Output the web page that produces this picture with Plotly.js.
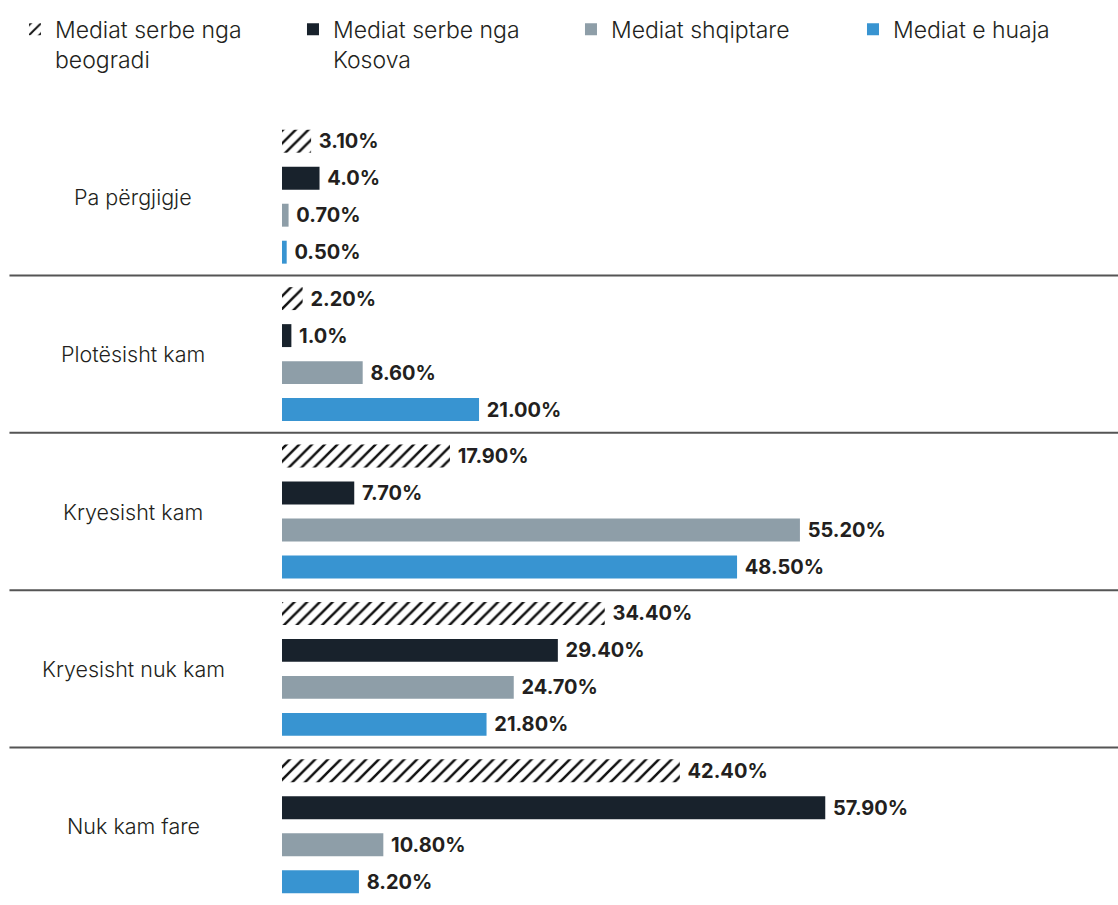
<!DOCTYPE html>
<html>
<head>
<meta charset="utf-8">
<script src="https://cdn.plot.ly/plotly-3.0.1.min.js"></script>
<style>html,body{margin:0;padding:0;background:#fff;}#chart{width:1118px;height:905px;}</style>
</head>
<body>
<div id="chart"></div>
<script>
const categories = ["Pa përgjigje", "Plotësisht kam", "Kryesisht kam", "Kryesisht nuk kam", "Nuk kam fare"];
const seriesNames = ["Mediat serbe nga<br>beogradi", "Mediat serbe nga<br>Kosova", "Mediat shqiptare", "Mediat e huaja"];
const beogradi = [3.1, 2.2, 17.9, 34.4, 42.4];
const kosova = [4.0, 1.0, 7.7, 29.4, 57.9];
const shqiptare = [0.7, 8.6, 55.2, 24.7, 10.8];
const huaja = [0.5, 21.0, 48.5, 21.8, 8.2];
const beogradiText = ["3.10%", "2.20%", "17.90%", "34.40%", "42.40%"];
const kosovaText = ["4.0%", "1.0%", "7.70%", "29.40%", "57.90%"];
const shqiptareText = ["0.70%", "8.60%", "55.20%", "24.70%", "10.80%"];
const huajaText = ["0.50%", "21.00%", "48.50%", "21.80%", "8.20%"];

const colors = ["#18222c", "#18222c", "#8e9ea8", "#3894d1"];
const FONT = "Inter, 'Open Sans', sans-serif";
const vals = [beogradi, kosova, shqiptare, huaja];
const texts = [beogradiText, kosovaText, shqiptareText, huajaText];

const traces = vals.map((v, i) => {
  const t = {
    type: "bar",
    orientation: "h",
    name: seriesNames[i],
    x: v,
    y: categories,
    legend: i === 3 ? "legend2" : "legend",
    text: texts[i].map(s => " " + s),
    textposition: "outside",
    cliponaxis: false,
    constraintext: "none",
    textfont: {family: FONT, size: 20, color: "#231f20", weight: 700},
    marker: {color: colors[i], line: {width: 0}},
    hoverinfo: "skip"
  };
  if (i === 0) {
    t.marker = {
      color: "#ffffff",
      line: {width: 0},
      pattern: {shape: "/", fgcolor: "#111111", fgopacity: 1, bgcolor: "#ffffff", size: 9, solidity: 0.28, fillmode: "overlay"}
    };
  }
  return t;
});

const shapes = [];
for (let k = 0; k < categories.length - 1; k++) {
  shapes.push({
    type: "line", xref: "paper", yref: "y",
    x0: -0.326, x1: 1, y0: k + 0.5, y1: k + 0.5,
    line: {color: "#555555", width: 2}, layer: "below"
  });
}

const annotations = categories.map(c => ({
  xref: "paper", yref: "y", x: -0.178, y: c,
  text: c, showarrow: false, xanchor: "center", yanchor: "middle",
  font: {family: FONT, size: 21.5, color: "#231f20", weight: 300}
}));

const legendBase = {
  orientation: "h", xanchor: "left", y: 1.14, yanchor: "top",
  entrywidth: 233, entrywidthmode: "pixels", valign: "top",
  font: {family: FONT, size: 23, color: "#231f20", weight: 300},
  traceorder: "normal", itemclick: false, itemdoubleclick: false
};

const layout = {
  width: 1118, height: 905,
  margin: {l: 282, r: 0, t: 118, b: 0},
  paper_bgcolor: "#ffffff", plot_bgcolor: "#ffffff",
  barmode: "group",
  bargap: 0.06,
  bargroupgap: 0.38,
  showlegend: true,
  legend: Object.assign({}, legendBase, {x: -0.3194}),
  legend2: Object.assign({}, legendBase, {x: 0.683, entrywidth: 200}),
  xaxis: {range: [0, 89.1], visible: false, fixedrange: true},
  yaxis: {type: "category", autorange: "reversed", showticklabels: false, showgrid: false, zeroline: false, showline: false, ticks: "", fixedrange: true},
  shapes: shapes,
  annotations: annotations,
  font: {family: FONT}
};

Plotly.newPlot("chart", traces, layout, {displayModeBar: false, staticPlot: true});
</script>
</body>
</html>
